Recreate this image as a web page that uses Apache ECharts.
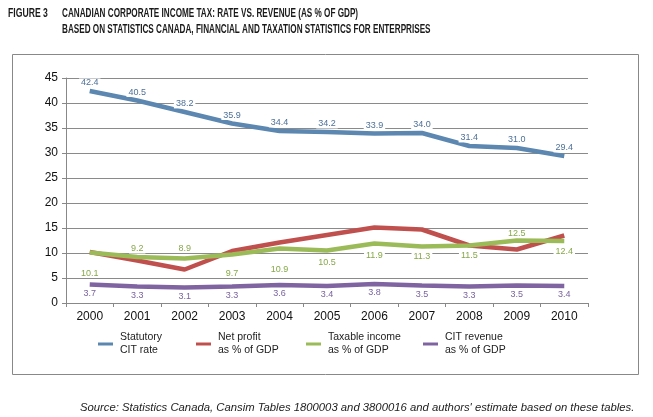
<!DOCTYPE html>
<html><head><meta charset="utf-8">
<script src="https://cdn.jsdelivr.net/npm/echarts@6/dist/echarts.min.js"></script>
<style>html,body{margin:0;padding:0;background:#fff}#c{width:653px;height:417px}</style>
</head><body><div id="c"></div>
<script>
const years = ['2000','2001','2002','2003','2004','2005','2006','2007','2008','2009','2010'];
const statutoryRate = [42.4, 40.5, 38.2, 35.9, 34.4, 34.2, 33.9, 34.0, 31.4, 31.0, 29.4];
const netProfit = [10.2, 8.5, 6.7, 10.4, 12.1, 13.6, 15.1, 14.7, 11.5, 10.7, 13.5];
const taxableIncome = [10.1, 9.2, 8.9, 9.7, 10.9, 10.5, 11.9, 11.3, 11.5, 12.5, 12.4];
const citRevenue = [3.7, 3.3, 3.1, 3.3, 3.6, 3.4, 3.8, 3.5, 3.3, 3.5, 3.4];
const yTicks = [0, 5, 10, 15, 20, 25, 30, 35, 40, 45];

const seriesNames = ['Statutory\nCIT rate', 'Net profit\nas % of GDP', 'Taxable income\nas % of GDP', 'CIT revenue\nas % of GDP'];
const titleLines = ['FIGURE 3', 'CANADIAN CORPORATE INCOME TAX: RATE VS. REVENUE (AS % OF GDP)', 'BASED ON STATISTICS CANADA, FINANCIAL AND TAXATION STATISTICS FOR ENTERPRISES'];
const sourceText = "Source: Statistics Canada, Cansim Tables 1800003 and 3800016 and authors' estimate based on these tables.";

const colors = ['#5b87b0', '#c0504d', '#9bbb59', '#8064a2'];
const labelColors = ['#4d7098', '#c0504d', '#86a84a', '#7a63a0'];
// green label offsets (styling only)
const greenOffsets = [21, -8, -10, 19, 21, 12, 12, 10, 10, -7, 11];

const labelFont = {fontFamily: '"Liberation Sans", Arial, sans-serif', fontSize: 9};

const chart = echarts.init(document.getElementById('c'), null, {renderer: 'canvas'});

function mkLegend(i, left) {
  return {
    data: [seriesNames[i]], left: left, top: 331, orient: 'horizontal', padding: 0,
    icon: 'rect', itemWidth: 15, itemHeight: 3, itemGap: 0,
    textStyle: {fontFamily: '"Liberation Sans", Arial, sans-serif', fontSize: 10.5, color: '#222', lineHeight: 13, padding: [0,0,0,2]},
    selectedMode: false
  };
}

function titleText(txt, x, y, sx) {
  return {type: 'text', x: x, y: y, scaleX: sx, scaleY: 1,
    style: {text: txt, font: 'bold 12px "Liberation Sans", Arial, sans-serif', fill: '#1a1a1a', textVerticalAlign: 'middle', verticalAlign: 'middle'}};
}

const option = {
  animation: false,
  backgroundColor: '#fff',
  title: [
    {text: sourceText, left: 75, top: 397, textStyle: {fontFamily: '"Liberation Sans", Arial, sans-serif', fontStyle: 'italic', fontWeight: 'normal', fontSize: 11.3, color: '#222'}}
  ],
  graphic: [
    {type: 'rect', shape: {x: 12.5, y: 54.5, width: 626, height: 320}, style: {fill: 'none', stroke: '#888', lineWidth: 1}, z: -1},
    titleText(titleLines[0], 8, 14, 0.72),
    titleText(titleLines[1], 62, 14, 0.68),
    titleText(titleLines[2], 62, 30, 0.68)
  ],
  legend: [mkLegend(0, 98), mkLegend(1, 196), mkLegend(2, 306), mkLegend(3, 423)],
  grid: {left: 66, right: 65, top: 78, bottom: 114, containLabel: false},
  xAxis: {
    type: 'category', data: years, boundaryGap: true,
    axisLine: {lineStyle: {color: '#888', width: 1}},
    axisTick: {show: true, length: 4, lineStyle: {color: '#888'}},
    axisLabel: {color: '#111', fontFamily: '"Liberation Sans", Arial, sans-serif', fontSize: 12, margin: 8}
  },
  yAxis: {
    type: 'value', min: 0, max: 45, interval: 5,
    axisLine: {show: true, lineStyle: {color: '#888'}},
    axisTick: {show: true, length: 4, lineStyle: {color: '#888'}},
    splitLine: {lineStyle: {color: '#8a8a8a', width: 1}},
    axisLabel: {color: '#111', fontFamily: '"Liberation Sans", Arial, sans-serif', fontSize: 12, margin: 8,
      formatter: v => yTicks.includes(v) ? String(v) : ''}
  },
  series: [
    {name: seriesNames[0], type: 'line', data: statutoryRate, showSymbol: true, symbol: 'circle', symbolSize: 0.1,
     lineStyle: {color: colors[0], width: 4.5}, itemStyle: {color: colors[0]},
     label: {show: true, position: 'top', distance: 3.5, color: labelColors[0], backgroundColor: '#fff', padding: [0, 2], ...labelFont,
       formatter: p => p.value.toFixed(1)}, z: 4},
    {name: seriesNames[1], type: 'line', data: netProfit, showSymbol: false, symbol: 'none',
     lineStyle: {color: colors[1], width: 4.5}, itemStyle: {color: colors[1]}, z: 2},
    {name: seriesNames[2], type: 'line', showSymbol: true, symbol: 'circle', symbolSize: 0.1,
     data: taxableIncome.map((v, i) => ({value: v, label: {offset: [0, greenOffsets[i]]}})),
     lineStyle: {color: colors[2], width: 4.5}, itemStyle: {color: colors[2]},
     label: {show: true, position: 'inside', color: labelColors[2], backgroundColor: '#fff', padding: [0, 2], ...labelFont,
       formatter: p => (typeof p.value === 'number' ? p.value : p.data.value).toFixed(1)}, z: 3},
    {name: seriesNames[3], type: 'line', data: citRevenue, showSymbol: true, symbol: 'circle', symbolSize: 0.1,
     lineStyle: {color: colors[3], width: 4.5}, itemStyle: {color: colors[3]},
     label: {show: true, position: 'bottom', distance: 4, color: labelColors[3], ...labelFont,
       formatter: p => p.value.toFixed(1)}, z: 3}
  ]
};
chart.setOption(option);
</script></body></html>
